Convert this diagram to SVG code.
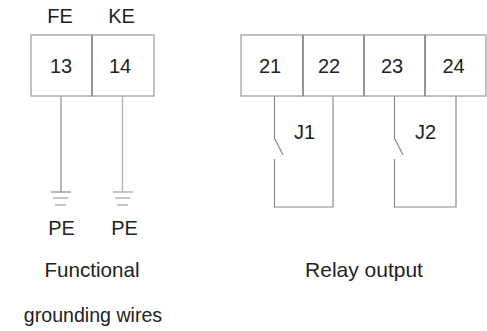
<svg xmlns="http://www.w3.org/2000/svg" width="487" height="331" viewBox="0 0 487 331">
<style>
.t{font-family:"Liberation Sans",Arial,sans-serif;font-size:20px;fill:#222;text-anchor:middle}
.s{font-size:19.600px}
.f{font-size:20.600px}
.r{font-size:21px}
.b{fill:none;stroke:#a0a0a0;stroke-width:1.300}
.v{fill:none;stroke:#8c8c8c;stroke-width:1.500}
.d{fill:none;stroke:#8a8a8a;stroke-width:1.200}
.w{fill:none;stroke:#b4b4b4;stroke-width:1.300}
</style>
<rect width="487" height="331" fill="#fff"/>
<g id="connectors">
<path class="d" d="M61 96V192"/>
<path class="w" d="M122.500 96V192"/>
<path class="d" d="M51 192H71"/>
<path class="w" d="M53 198H68M55 205H66"/>
<path class="w" d="M113 192H133M115 198H130M117 205H128"/>
<path class="d" d="M274.500 96V138L283 155M274.500 159V207H333V96"/>
<path class="d" d="M394.500 96V138L403 155M394.500 159V207H456V96"/>
</g>
<g id="n13"><rect class="b" x="31" y="35" width="61" height="61"/><text class="t" x="61" y="73">13</text></g>
<g id="n14"><rect class="b" x="92" y="35" width="62" height="61"/><path class="v" d="M92 35V96"/><text class="t" x="120" y="73">14</text></g>
<g id="n21"><rect class="b" x="241" y="35" width="62" height="61"/><text class="t" x="270" y="73">21</text></g>
<g id="n22"><rect class="b" x="303" y="35" width="61" height="61"/><path class="v" d="M303 35V96"/><text class="t" x="329" y="73">22</text></g>
<g id="n23"><rect class="b" x="364" y="35" width="61" height="61"/><path class="v" d="M364 35V96"/><text class="t" x="392" y="73">23</text></g>
<g id="n24"><rect class="b" x="425" y="35" width="61" height="61"/><path class="v" d="M425 35V96"/><text class="t" x="453.500" y="73">24</text></g>
<g id="labels">
<text class="t" x="60" y="23">FE</text>
<text class="t" x="121.500" y="23">KE</text>
<text class="t" x="61.500" y="235">PE</text>
<text class="t" x="124.500" y="235">PE</text>
<text class="t" x="304.500" y="139">J1</text>
<text class="t" x="425.500" y="139">J2</text>
<text class="t f" x="92" y="277">Functional</text>
<text class="t r" x="364" y="277">Relay output</text>
<text class="t s" x="93" y="322">grounding wires</text>
</g>
</svg>
